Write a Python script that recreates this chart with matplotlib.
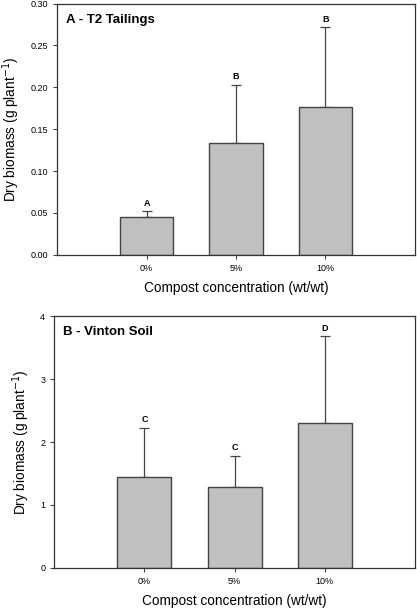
import matplotlib.pyplot as plt
import numpy as np

categories = ['0%', '5%', '10%']

# panel A - T2 tailings
t2_mean = [0.045, 0.133, 0.177]
t2_err = [0.007, 0.070, 0.095]
t2_letters = ['A', 'B', 'B']

# panel B - Vinton soil
vin_mean = [1.45, 1.28, 2.30]
vin_err = [0.77, 0.50, 1.38]
vin_letters = ['C', 'C', 'D']

plt.rcParams['font.family'] = ['Liberation Sans', 'DejaVu Sans']

fig = plt.figure(figsize=(4.17, 6.08), dpi=100)
ax1 = fig.add_axes([0.137, 0.581, 0.858, 0.413])
ax2 = fig.add_axes([0.130, 0.066, 0.865, 0.414])


def draw_panel(ax, mean, err, letters, title, ylim, yticks, fmt, off):
    x = np.arange(len(categories))
    ax.bar(x, mean, width=0.6, color='#c0c0c0', edgecolor='#444444', linewidth=1.0, zorder=2)
    ax.errorbar(x, mean, yerr=[np.zeros(len(err)), err], fmt='none', ecolor='#444444',
                elinewidth=0.9, capsize=3.5, capthick=0.9, zorder=1)
    for xi, m, e, lab in zip(x, mean, err, letters):
        ax.text(xi, m + e + off, lab, ha='center', va='bottom', fontsize=6.5, fontweight='bold')
    ax.set_xlim(-1, 3)
    ax.set_ylim(*ylim)
    ax.set_yticks(yticks)
    ax.set_yticklabels([fmt.format(t) for t in yticks])
    ax.set_xticks(x)
    ax.set_xticklabels(categories)
    ax.tick_params(direction='out', length=3, width=0.8, labelsize=6.5, color='#444444')
    for s in ax.spines.values():
        s.set_linewidth(0.9)
        s.set_color('#333333')
    ax.text(0.025, 0.96, title, transform=ax.transAxes, ha='left', va='top',
            fontsize=9.5, fontweight='bold')
    ax.set_xlabel('Compost concentration (wt/wt)', fontsize=9.8, labelpad=6)
    ax.set_ylabel('Dry biomass (g plant$^{-1}$)', fontsize=9.8, labelpad=6)


draw_panel(ax1, t2_mean, t2_err, t2_letters, 'A - T2 Tailings', (0, 0.30),
           [0, 0.05, 0.10, 0.15, 0.20, 0.25, 0.30], '{:.2f}', 0.004)
draw_panel(ax2, vin_mean, vin_err, vin_letters, 'B - Vinton Soil', (0, 4),
           [0, 1, 2, 3, 4], '{:.0f}', 0.06)

fig.savefig('out.png', dpi=100)
